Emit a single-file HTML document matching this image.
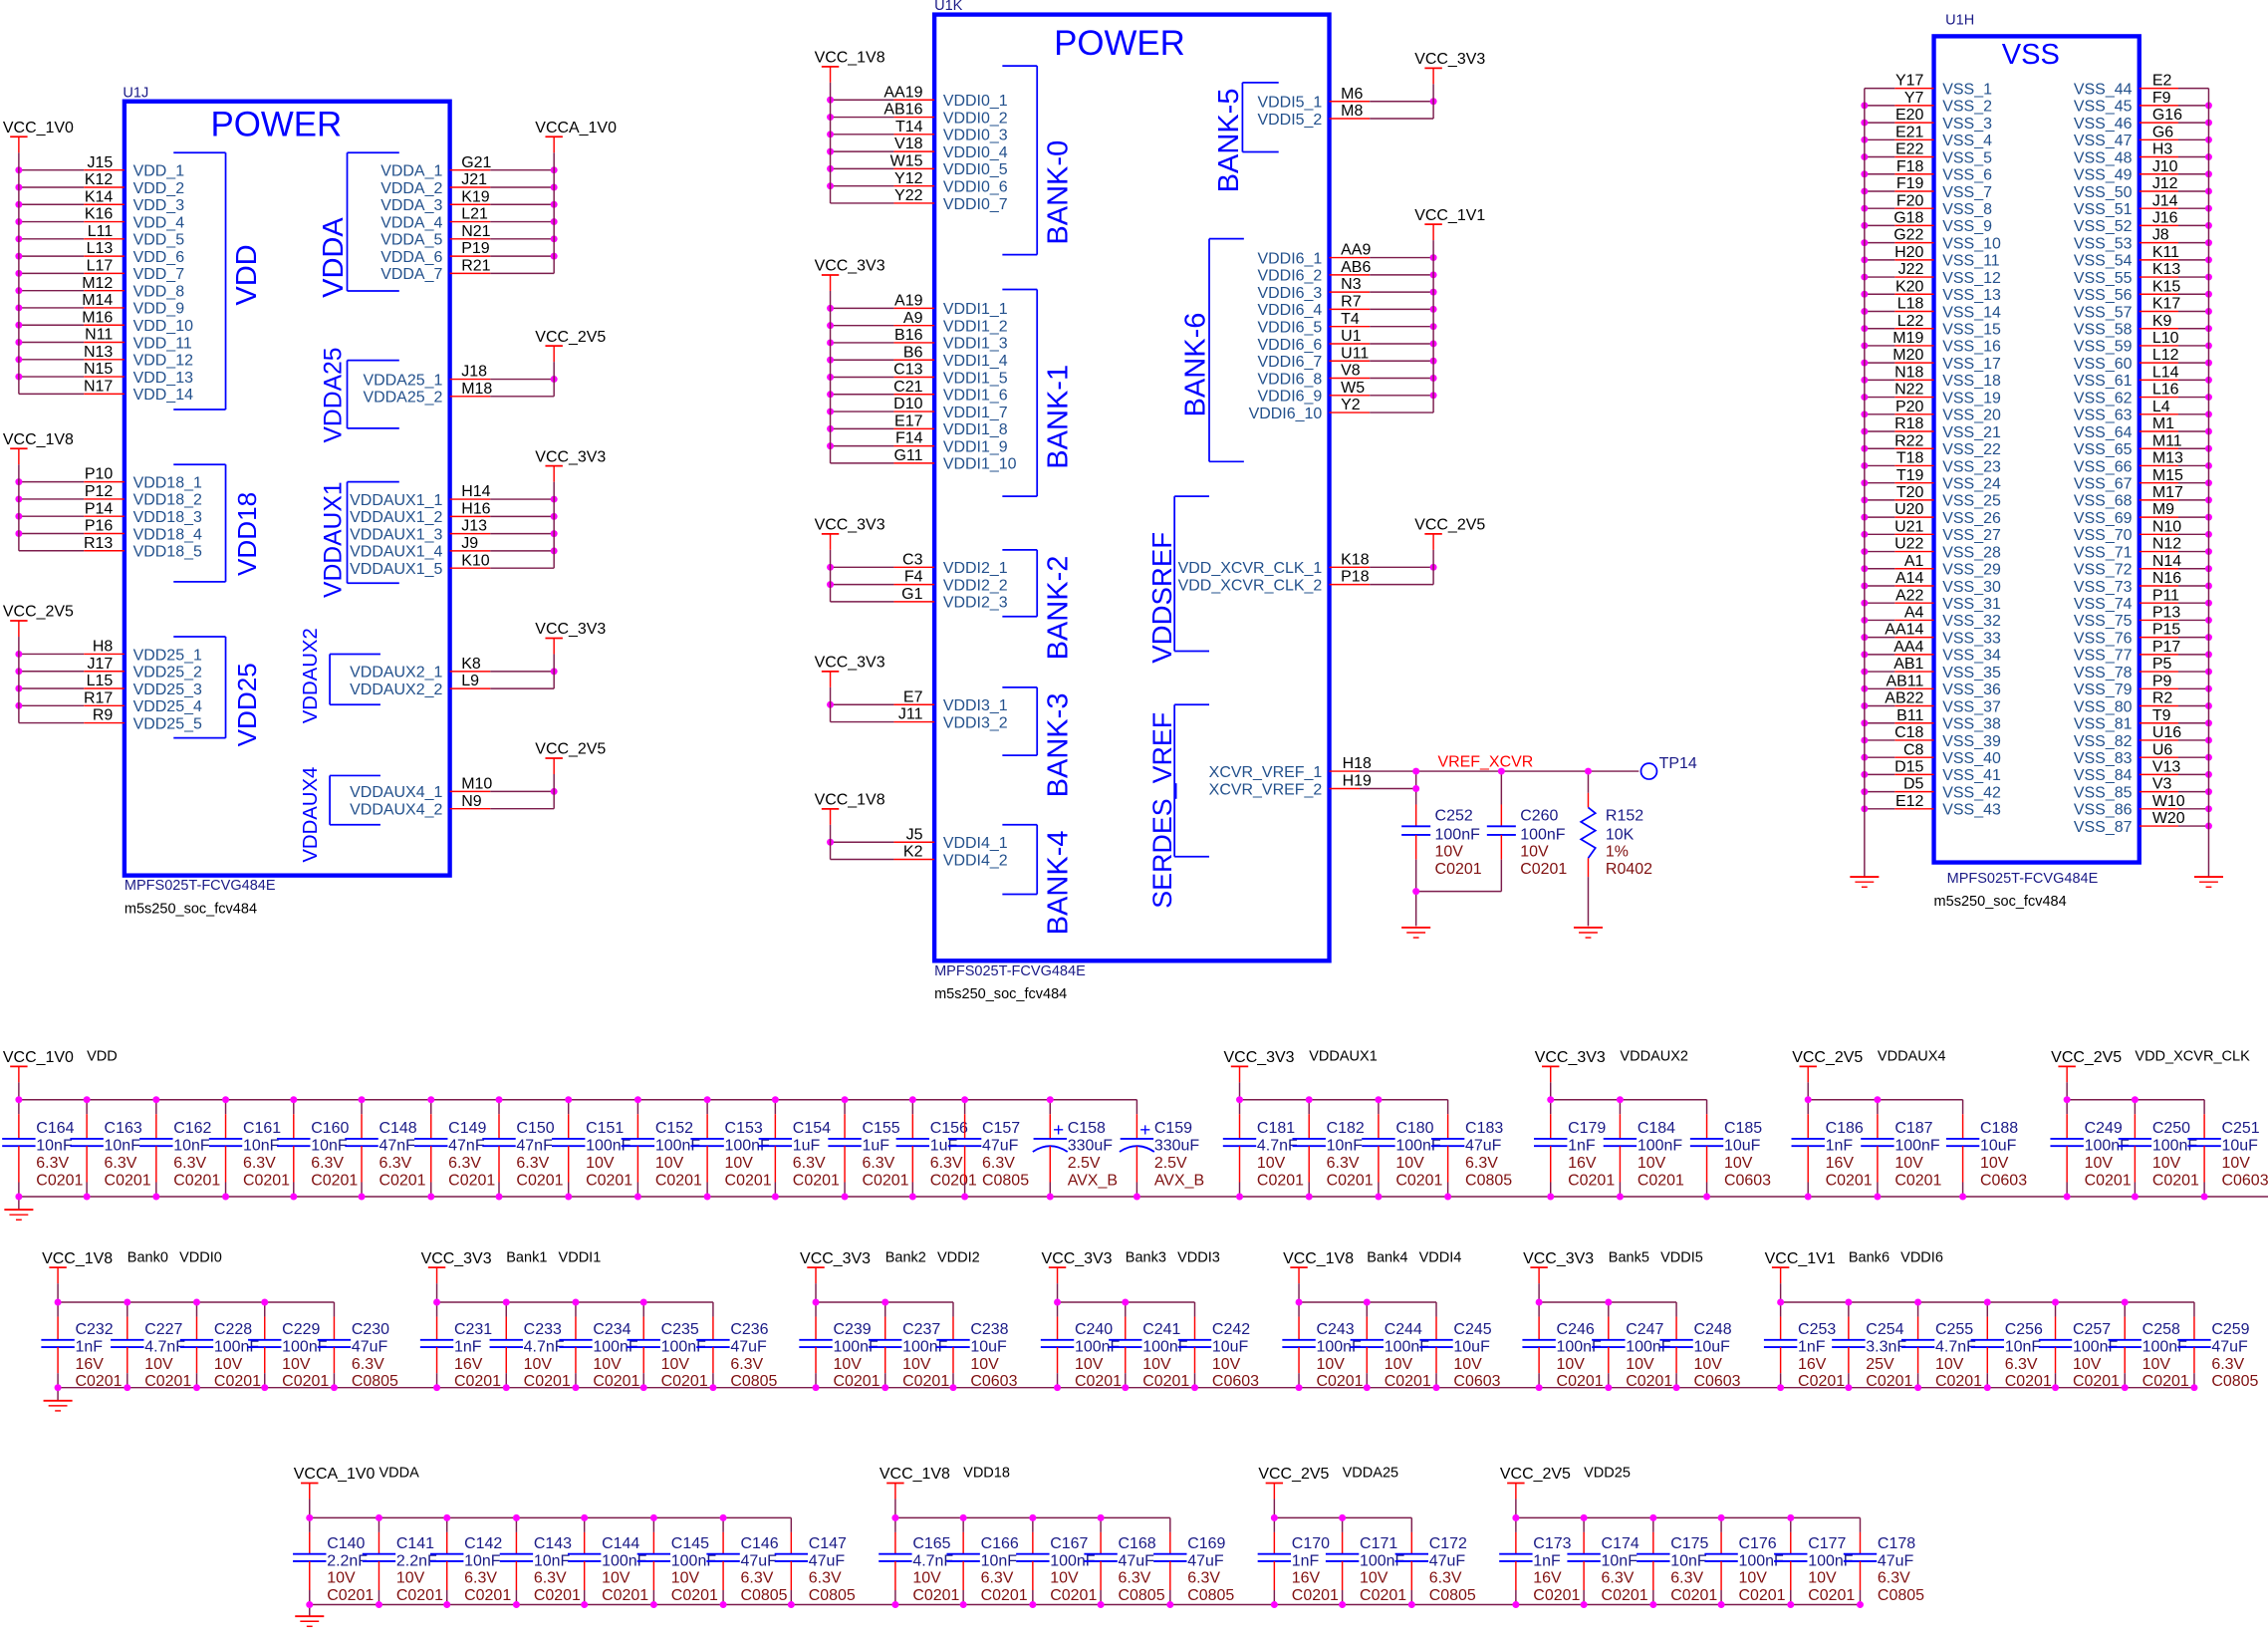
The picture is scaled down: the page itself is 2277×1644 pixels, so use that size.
<!DOCTYPE html>
<html><head><meta charset="utf-8"><style>
html,body{margin:0;padding:0;background:#fff;}
svg{display:block;font-family:"Liberation Sans",sans-serif;}
</style></head><body>
<svg id="s" width="2277" height="1644" viewBox="0 0 1568 1132" xmlns="http://www.w3.org/2000/svg"></svg>
<script>
const S=document.getElementById('s');let h='';
const W='#7c1c4c',R='#ff0000',B='#0000ff',PN='#22508c',CN='#1a1a86',CV='#801010';
function L(a,b,c,d,col,w){h+=`<line x1="${a}" y1="${b}" x2="${c}" y2="${d}" stroke="${col||W}" stroke-width="${w||1}"/>`;}
function T(x,y,s,o){o=o||{};h+=`<text x="${x}" y="${y}" font-size="${o.s||11}" fill="${o.c||'#000'}" text-anchor="${o.a||'start'}"${o.r?` transform="rotate(-90 ${x} ${y})"`:''}>${s}</text>`;}
function D(x,y){h+=`<circle cx="${x}" cy="${y}" r="2.4" fill="#ff00ff"/>`;}
function P(x,y,lab,dx){L(x-6,y,x+6,y,R,1.2);L(x,y,x,y+11,R);T(x-(dx||11),y-3,lab);}
function G(x,y){L(x-10,y,x+10,y,R,1.3);L(x-6.5,y+3.5,x+6.5,y+3.5,R);L(x-2,y+7,x+2,y+7,R);}
function nm(p,n,s){s=s||1;return Array.from({length:n},(_,i)=>p+(i+s));}
const st=11.9;
function LG(bx,ex,y0,nums,names,pl,mode){const n=nums.length;
 for(let i=0;i<n;i++){const y=y0+i*st;L(bx,y,ex-28,y);L(ex-28,y,ex,y,R);T(ex-8,y-2,nums[i],{a:'end'});T(ex+6,y+4,names[i],{c:PN});
  if(mode==='vss'){if(i>0)D(bx,y);}else if(i<n-1)D(bx,y);}
 if(pl){P(bx,y0-23,pl);L(bx,y0-12,bx,y0+(n-1)*st);}
}
function RG(ex,bx,y0,nums,names,pl,mode){const n=nums.length;
 for(let i=0;i<n;i++){const y=y0+i*st;L(ex,y,ex+28,y,R);L(ex+28,y,bx,y);T(ex+8,y-2,nums[i]);T(ex-5,y+4,names[i],{a:'end',c:PN});
  if(mode==='vss'){if(i>0)D(bx,y);}else if(i<n-1)D(bx,y);}
 if(pl){P(bx,y0-23,pl,13);L(bx,y0-12,bx,y0+(n-1)*st);}
}
function BR(x,y1,y2,ax){L(ax,y1,x,y1,B,1.2);L(x,y1,x,y2,B,1.2);L(ax,y2,x,y2,B,1.2);}
function RL(x,cy,s,sz){T(x,cy,s,{s:sz||20,c:B,a:'middle',r:1});}

/* ===== U1J ===== */
h+=`<rect x="86" y="70" width="225" height="535" fill="none" stroke="${B}" stroke-width="3"/>`;
T(85,67,'U1J',{s:10,c:CN});T(191,94,'POWER',{s:24,c:B,a:'middle'});
T(86,615,'MPFS025T-FCVG484E',{s:10,c:CN});T(86,631,'m5s250_soc_fcv484',{s:10});
LG(13,86,117.5,['J15','K12','K14','K16','L11','L13','L17','M12','M14','M16','N11','N13','N15','N17'],nm('VDD_',14),'VCC_1V0');
BR(156,105.5,283,120);RL(177,190,'VDD');
LG(13,86,333,['P10','P12','P14','P16','R13'],nm('VDD18_',5),'VCC_1V8');
BR(156,321,402,120);RL(177,369,'VDD18',18);
LG(13,86,452,['H8','J17','L15','R17','R9'],nm('VDD25_',5),'VCC_2V5');
BR(156,440,510,120);RL(177,487,'VDD25',18);
RG(311,383,117.5,['G21','J21','K19','L21','N21','P19','R21'],nm('VDDA_',7),'VCCA_1V0');
BR(240,105.5,201,276);RL(237,178,'VDDA');
RG(311,383,262,['J18','M18'],nm('VDDA25_',2),'VCC_2V5');
BR(240,249,296,276);RL(236,273,'VDDA25',17);
RG(311,383,345,['H14','H16','J13','J9','K10'],nm('VDDAUX1_',5),'VCC_3V3');
BR(240,333,403,276);RL(236,373,'VDDAUX1',17);
RG(311,383,464,['K8','L9'],nm('VDDAUX2_',2),'VCC_3V3');
BR(228,452,487,263);RL(219,467,'VDDAUX2',14);
RG(311,383,547,['M10','N9'],nm('VDDAUX4_',2),'VCC_2V5');
BR(228,536,570,263);RL(219,563,'VDDAUX4',14);

/* ===== U1K ===== */
h+=`<rect x="646" y="10" width="273" height="654" fill="none" stroke="${B}" stroke-width="3"/>`;
T(646,7,'U1K',{s:10,c:CN});T(774,38,'POWER',{s:24,c:B,a:'middle'});
T(646,674,'MPFS025T-FCVG484E',{s:10,c:CN});T(646,690,'m5s250_soc_fcv484',{s:10});
LG(574,646,69,['AA19','AB16','T14','V18','W15','Y12','Y22'],nm('VDDI0_',7),'VCC_1V8');
BR(717,45.5,176,693);RL(738,133,'BANK-0');
LG(574,646,213,['A19','A9','B16','B6','C13','C21','D10','E17','F14','G11'],nm('VDDI1_',10),'VCC_3V3');
BR(717,200,343,693);RL(738,288,'BANK-1');
LG(574,646,392,['C3','F4','G1'],nm('VDDI2_',3),'VCC_3V3');
BR(717,380,426,693);RL(738,420,'BANK-2');
LG(574,646,487,['E7','J11'],nm('VDDI3_',2),'VCC_3V3');
BR(717,475,522,693);RL(738,515,'BANK-3');
LG(574,646,582,['J5','K2'],nm('VDDI4_',2),'VCC_1V8');
BR(717,570,618,693);RL(738,610,'BANK-4');
RG(919,991,70,['M6','M8'],nm('VDDI5_',2),'VCC_3V3');
BR(859,57,105,884);RL(856,97,'BANK-5');
RG(919,991,178,['AA9','AB6','N3','R7','T4','U1','U11','V8','W5','Y2'],nm('VDDI6_',10),'VCC_1V1');
BR(836,165,319,860);RL(833,252,'BANK-6');
RG(919,991,392,['K18','P18'],['VDD_XCVR_CLK_1','VDD_XCVR_CLK_2'],'VCC_2V5');
BR(812,343,450,836);RL(810,413,'VDDSREF',19);
BR(812,487,592,836);RL(810,560,'SERDES_VREF',18.5);
/* VREF net */
L(919,533,940,533,R);L(940,533,1133,533);L(919,545,940,545,R);L(940,545,979,545);
T(928,531,'H18');T(928,543,'H19');T(914,537,'XCVR_VREF_1',{a:'end',c:PN});T(914,549,'XCVR_VREF_2',{a:'end',c:PN});
T(994,530,'VREF_XCVR',{c:R});
h+=`<circle cx="1140" cy="533" r="5.5" fill="none" stroke="${B}" stroke-width="1.2"/>`;T(1147,531,'TP14',{c:CN});
L(979,533,979,556);L(979,556,979,571,R);L(969,571,989,571,B,1.3);L(969,577,989,577,B,1.3);L(979,577,979,594,R);L(979,594,979,640);
L(1038,533,1038,556);L(1038,556,1038,571,R);L(1028,571,1048,571,B,1.3);L(1028,577,1048,577,B,1.3);L(1038,577,1038,594,R);L(1038,594,1038,616);L(979,616,1038,616);
L(1098,533,1098,548);L(1098,548,1098,558,R);
h+=`<polyline points="1098,558 1103,562 1093,568 1103,574 1093,580 1103,586 1098,593" fill="none" stroke="${B}" stroke-width="1.2"/>`;
L(1098,593,1098,606,R);L(1098,606,1098,640);
D(979,533);D(979,545);D(1038,533);D(1098,533);D(979,616);G(979,641);G(1098,641);
[['C252','100nF','10V','C0201',992],['C260','100nF','10V','C0201',1051],['R152','10K','1%','R0402',1110]].forEach(c=>{T(c[4],567,c[0],{c:CN});T(c[4],580,c[1],{c:CN});T(c[4],592,c[2],{c:CV});T(c[4],604,c[3],{c:CV});});

/* ===== U1H ===== */
h+=`<rect x="1337" y="25" width="142" height="571" fill="none" stroke="${B}" stroke-width="3"/>`;
T(1345,17,'U1H',{s:10,c:CN});T(1404,44,'VSS',{s:20,c:B,a:'middle'});
T(1346,610,'MPFS025T-FCVG484E',{s:10,c:CN});T(1337,626,'m5s250_soc_fcv484',{s:10});
const vst=11.857;
function VG(left,nums,s0){nums.forEach((n,i)=>{const y=61+i*vst;
 if(left){L(1289,y,1310,y);L(1310,y,1337,y,R);T(1330,y-2,n,{a:'end'});T(1343,y+4,'VSS_'+(s0+i),{c:PN});}
 else{L(1479,y,1506,y,R);L(1506,y,1527,y);T(1488,y-2,n);T(1474,y+4,'VSS_'+(s0+i),{a:'end',c:PN});}
 if(i>0)D(left?1289:1527,y);});}
VG(1,['Y17','Y7','E20','E21','E22','F18','F19','F20','G18','G22','H20','J22','K20','L18','L22','M19','M20','N18','N22','P20','R18','R22','T18','T19','T20','U20','U21','U22','A1','A14','A22','A4','AA14','AA4','AB1','AB11','AB22','B11','C18','C8','D15','D5','E12'],1);
VG(0,['E2','F9','G16','G6','H3','J10','J12','J14','J16','J8','K11','K13','K15','K17','K9','L10','L12','L14','L16','L4','M1','M11','M13','M15','M17','M9','N10','N12','N14','N16','P11','P13','P15','P17','P5','P9','R2','T9','U16','U6','V13','V3','W10','W20'],44);
L(1289,61,1289,606);L(1527,61,1527,606);G(1289,606);G(1527,606);

/* ===== capacitor rows ===== */
function CG(R0,vlab,gl,gl2,xs,spec){const [bar,top,pm,bot]=R0;const x0=xs[0],xl=xs[xs.length-1];
 P(x0,bar,vlab);L(x0,bar+11,x0,top);T(xs[1],bar-4,gl,{s:10});if(gl2)T(xs[1]+36,bar-4,gl2,{s:10});
 L(x0,top,xl,top);
 xs.forEach((x,i)=>{const c=spec[i].split('|');const pol=c[4];
  L(x,top,x,top+10);L(x,top+10,x,pm-3,R);L(x-11.5,pm-3,x+11.5,pm-3,B,1.3);
  if(pol){h+=`<path d="M${x-12} ${pm+6} Q${x} ${pm-2} ${x+12} ${pm+6}" fill="none" stroke="${B}" stroke-width="1.3"/>`;T(x+2,pm-5,'+',{s:13,c:B});}
  else L(x-11.5,pm+2,x+11.5,pm+2,B,1.3);
  L(x,pm+(pol?2:2),x,bot-10,R);L(x,bot-10,x,bot);
  if(i<xs.length-1)D(x,top);D(x,bot);
  T(x+12,pm-7,c[0],{c:CN});T(x+12,pm+5,c[1],{c:CN});T(x+12,pm+17,c[2],{c:CV});T(x+12,pm+29,c[3],{c:CV});
 });}
const R1=[737,760,790,827],R2=[876,900,929,959],R3=[1025,1049,1077,1109];
L(13,827,1568,827);L(13,827,13,836);G(13,836);
CG(R1,'VCC_1V0','VDD','',[13,60,108,156,203,250,298,345,393,441,489,536,584,631,667,726,786],
['C164|10nF|6.3V|C0201','C163|10nF|6.3V|C0201','C162|10nF|6.3V|C0201','C161|10nF|6.3V|C0201','C160|10nF|6.3V|C0201','C148|47nF|6.3V|C0201','C149|47nF|6.3V|C0201','C150|47nF|6.3V|C0201','C151|100nF|10V|C0201','C152|100nF|10V|C0201','C153|100nF|10V|C0201','C154|1uF|6.3V|C0201','C155|1uF|6.3V|C0201','C156|1uF|6.3V|C0201','C157|47uF|6.3V|C0805','C158|330uF|2.5V|AVX_B|p','C159|330uF|2.5V|AVX_B|p']);
CG(R1,'VCC_3V3','VDDAUX1','',[857,905,953,1001],['C181|4.7nF|10V|C0201','C182|10nF|6.3V|C0201','C180|100nF|10V|C0201','C183|47uF|6.3V|C0805']);
CG(R1,'VCC_3V3','VDDAUX2','',[1072,1120,1180],['C179|1nF|16V|C0201','C184|100nF|10V|C0201','C185|10uF|10V|C0603']);
CG(R1,'VCC_2V5','VDDAUX4','',[1250,1298,1357],['C186|1nF|16V|C0201','C187|100nF|10V|C0201','C188|10uF|10V|C0603']);
CG(R1,'VCC_2V5','VDD_XCVR_CLK','',[1429,1476,1524],['C249|100nF|10V|C0201','C250|100nF|10V|C0201','C251|10uF|10V|C0603']);

L(40,959,1517,959);L(40,959,40,968);G(40,968);
CG(R2,'VCC_1V8','Bank0','VDDI0',[40,88,136,183,231],['C232|1nF|16V|C0201','C227|4.7nF|10V|C0201','C228|100nF|10V|C0201','C229|100nF|10V|C0201','C230|47uF|6.3V|C0805']);
CG(R2,'VCC_3V3','Bank1','VDDI1',[302,350,398,445,493],['C231|1nF|16V|C0201','C233|4.7nF|10V|C0201','C234|100nF|10V|C0201','C235|100nF|10V|C0201','C236|47uF|6.3V|C0805']);
CG(R2,'VCC_3V3','Bank2','VDDI2',[564,612,659],['C239|100nF|10V|C0201','C237|100nF|10V|C0201','C238|10uF|10V|C0603']);
CG(R2,'VCC_3V3','Bank3','VDDI3',[731,778,826],['C240|100nF|10V|C0201','C241|100nF|10V|C0201','C242|10uF|10V|C0603']);
CG(R2,'VCC_1V8','Bank4','VDDI4',[898,945,993],['C243|100nF|10V|C0201','C244|100nF|10V|C0201','C245|10uF|10V|C0603']);
CG(R2,'VCC_3V3','Bank5','VDDI5',[1064,1112,1159],['C246|100nF|10V|C0201','C247|100nF|10V|C0201','C248|10uF|10V|C0603']);
CG(R2,'VCC_1V1','Bank6','VDDI6',[1231,1278,1326,1374,1421,1469,1517],['C253|1nF|16V|C0201','C254|3.3nF|25V|C0201','C255|4.7nF|10V|C0201','C256|10nF|6.3V|C0201','C257|100nF|10V|C0201','C258|100nF|10V|C0201','C259|47uF|6.3V|C0805']);

L(214,1109,1286,1109);L(214,1109,214,1117);G(214,1117);
CG(R3,'VCCA_1V0','VDDA','',[214,262,309,357,404,452,500,547],['C140|2.2nF|10V|C0201','C141|2.2nF|10V|C0201','C142|10nF|6.3V|C0201','C143|10nF|6.3V|C0201','C144|100nF|10V|C0201','C145|100nF|10V|C0201','C146|47uF|6.3V|C0805','C147|47uF|6.3V|C0805']);
CG(R3,'VCC_1V8','VDD18','',[619,666,714,761,809],['C165|4.7nF|10V|C0201','C166|10nF|6.3V|C0201','C167|100nF|10V|C0201','C168|47uF|6.3V|C0805','C169|47uF|6.3V|C0805']);
CG(R3,'VCC_2V5','VDDA25','',[881,928,976],['C170|1nF|16V|C0201','C171|100nF|10V|C0201','C172|47uF|6.3V|C0805']);
CG(R3,'VCC_2V5','VDD25','',[1048,1095,1143,1190,1238,1286],['C173|1nF|16V|C0201','C174|10nF|6.3V|C0201','C175|10nF|6.3V|C0201','C176|100nF|10V|C0201','C177|100nF|10V|C0201','C178|47uF|6.3V|C0805']);

S.innerHTML=h;
</script>
</body></html>
